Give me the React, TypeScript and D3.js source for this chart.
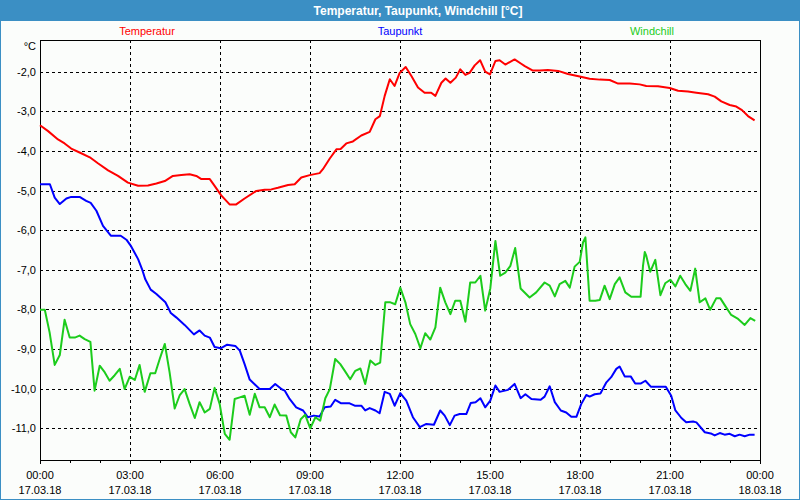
import React from "react";
import * as d3 from "d3";

// [hour of day, °C]
const temperatur: [number, number][] = [
  [0, -3.35], [0.27, -3.5], [0.6, -3.71], [0.82, -3.81], [1.04, -3.94], [1.32, -4.04],
  [1.66, -4.16], [1.93, -4.31], [2.27, -4.49], [2.6, -4.63], [2.93, -4.8], [3.27, -4.88],
  [3.6, -4.87], [3.88, -4.82], [4.16, -4.76], [4.43, -4.63], [4.71, -4.61], [4.99, -4.59],
  [5.21, -4.63], [5.38, -4.71], [5.66, -4.71], [5.82, -4.88], [6.04, -5.12], [6.32, -5.35],
  [6.54, -5.35], [6.82, -5.2], [7.21, -5.01], [7.49, -4.98], [7.71, -4.97], [7.93, -4.93],
  [8.27, -4.86], [8.49, -4.84], [8.71, -4.67], [8.99, -4.61], [9.32, -4.56], [9.43, -4.46],
  [9.66, -4.19], [9.88, -3.96], [10.02, -3.95], [10.21, -3.81], [10.43, -3.76], [10.71, -3.61],
  [10.99, -3.52], [11.18, -3.2], [11.33, -3.12], [11.49, -2.61], [11.66, -2.19], [11.82, -2.36],
  [11.99, -2.03], [12.19, -1.88], [12.38, -2.11], [12.6, -2.4], [12.82, -2.53], [13.04, -2.53],
  [13.18, -2.61], [13.38, -2.28], [13.52, -2.17], [13.68, -2.28], [13.86, -2.15], [14.01, -1.94],
  [14.18, -2.08], [14.32, -2.03], [14.49, -1.84], [14.67, -1.71], [14.84, -2.0], [15.0, -2.07],
  [15.18, -1.73], [15.32, -1.71], [15.51, -1.82], [15.82, -1.69], [16.04, -1.8], [16.16, -1.86],
  [16.43, -1.97], [16.66, -1.97], [16.93, -1.96], [17.27, -1.98], [17.6, -2.06], [17.99, -2.12],
  [18.32, -2.18], [18.66, -2.2], [18.99, -2.21], [19.27, -2.3], [19.66, -2.3], [19.99, -2.32],
  [20.21, -2.36], [20.6, -2.37], [20.99, -2.41], [21.27, -2.48], [21.6, -2.5], [21.88, -2.53],
  [22.27, -2.57], [22.49, -2.63], [22.71, -2.75], [22.99, -2.84], [23.21, -2.88], [23.4, -2.97],
  [23.6, -3.12], [23.82, -3.23],
];

const taupunkt: [number, number][] = [
  [0, -4.84], [0.33, -4.84], [0.49, -5.18], [0.66, -5.34], [0.88, -5.2], [1.04, -5.16],
  [1.32, -5.16], [1.54, -5.26], [1.69, -5.31], [1.88, -5.51], [2.1, -5.89], [2.36, -6.14],
  [2.69, -6.14], [2.88, -6.24], [3.04, -6.41], [3.27, -6.73], [3.4, -6.98], [3.51, -7.24],
  [3.69, -7.5], [3.88, -7.61], [4.18, -7.82], [4.36, -8.09], [4.54, -8.2], [4.82, -8.39],
  [5.13, -8.63], [5.32, -8.53], [5.49, -8.66], [5.66, -8.71], [5.82, -8.95], [6.02, -8.98],
  [6.24, -8.89], [6.51, -8.92], [6.66, -9.04], [6.82, -9.38], [6.99, -9.77], [7.32, -10.01],
  [7.66, -10.01], [7.84, -9.88], [8.07, -10.02], [8.16, -10.05], [8.32, -10.26], [8.54, -10.47],
  [8.77, -10.55], [8.93, -10.72], [9.13, -10.68], [9.32, -10.7], [9.49, -10.47], [9.69, -10.45],
  [9.84, -10.28], [10.04, -10.37], [10.32, -10.37], [10.49, -10.43], [10.71, -10.43], [10.84, -10.55],
  [10.99, -10.49], [11.18, -10.55], [11.32, -10.62], [11.49, -10.08], [11.66, -10.13], [11.82, -10.43],
  [12.01, -10.11], [12.21, -10.3], [12.43, -10.72], [12.66, -10.97], [12.88, -10.89], [13.13, -10.91],
  [13.34, -10.55], [13.49, -10.68], [13.66, -10.92], [13.82, -10.68], [13.99, -10.64], [14.21, -10.64],
  [14.36, -10.36], [14.52, -10.34], [14.68, -10.24], [14.84, -10.47], [15.01, -10.3], [15.18, -9.92],
  [15.32, -10.08], [15.6, -10.03], [15.82, -9.88], [16.02, -10.24], [16.18, -10.14], [16.38, -10.26],
  [16.69, -10.28], [16.82, -10.2], [16.99, -9.94], [17.16, -10.34], [17.36, -10.55], [17.54, -10.6],
  [17.71, -10.71], [17.88, -10.71], [18.04, -10.39], [18.21, -10.16], [18.32, -10.2], [18.49, -10.14],
  [18.68, -10.12], [18.88, -9.84], [19.04, -9.71], [19.21, -9.5], [19.32, -9.44], [19.49, -9.69],
  [19.69, -9.69], [19.84, -9.87], [20.02, -9.87], [20.18, -9.8], [20.36, -9.95], [20.86, -9.95],
  [21.04, -10.18], [21.18, -10.55], [21.38, -10.74], [21.54, -10.85], [21.77, -10.83], [21.88, -10.85],
  [22.16, -11.1], [22.36, -11.13], [22.49, -11.18], [22.66, -11.12], [22.82, -11.16], [22.99, -11.14],
  [23.16, -11.2], [23.32, -11.16], [23.49, -11.2], [23.66, -11.16], [23.82, -11.16],
];

const windchill: [number, number][] = [
  [0, -8.01], [0.16, -8.01], [0.32, -8.58], [0.49, -9.4], [0.66, -9.15], [0.82, -8.26],
  [0.99, -8.71], [1.16, -8.71], [1.32, -8.66], [1.49, -8.75], [1.68, -8.82], [1.82, -10.05],
  [1.99, -9.42], [2.16, -9.59], [2.32, -9.8], [2.49, -9.66], [2.66, -9.5], [2.82, -10.01],
  [2.99, -9.7], [3.16, -9.78], [3.32, -9.4], [3.49, -10.08], [3.68, -9.61], [3.84, -9.61],
  [3.99, -9.25], [4.16, -8.87], [4.32, -9.59], [4.49, -10.5], [4.66, -10.16], [4.82, -10.01],
  [4.99, -10.39], [5.16, -10.74], [5.32, -10.34], [5.49, -10.6], [5.66, -10.51], [5.82, -9.98],
  [5.99, -10.39], [6.16, -11.14], [6.32, -11.29], [6.49, -10.26], [6.66, -10.22], [6.82, -10.18],
  [6.99, -10.66], [7.16, -10.13], [7.32, -10.47], [7.49, -10.47], [7.66, -10.72], [7.82, -10.4],
  [8.0, -10.67], [8.21, -10.68], [8.36, -11.1], [8.51, -11.23], [8.69, -10.77], [8.84, -10.66],
  [9.01, -11.0], [9.18, -10.72], [9.34, -10.81], [9.51, -10.24], [9.66, -10.01], [9.84, -9.25],
  [10.01, -9.38], [10.16, -9.55], [10.34, -9.76], [10.51, -9.55], [10.68, -9.49], [10.84, -9.88],
  [11.01, -9.29], [11.18, -9.4], [11.34, -9.34], [11.51, -7.82], [11.68, -7.82], [11.84, -7.87],
  [12.01, -7.45], [12.18, -7.82], [12.34, -8.37], [12.51, -8.62], [12.68, -8.98], [12.84, -8.6],
  [13.01, -8.76], [13.18, -8.45], [13.34, -7.45], [13.51, -7.82], [13.68, -8.12], [13.84, -7.78],
  [14.01, -7.78], [14.18, -8.31], [14.34, -7.32], [14.51, -7.32], [14.68, -7.15], [14.84, -8.03],
  [15.01, -7.47], [15.18, -6.27], [15.34, -7.15], [15.51, -7.07], [15.68, -6.9], [15.84, -6.45],
  [16.02, -7.47], [16.32, -7.7], [16.54, -7.57], [16.82, -7.32], [16.99, -7.4], [17.16, -7.67],
  [17.32, -7.36], [17.51, -7.28], [17.66, -7.45], [17.82, -6.92], [17.99, -6.8], [18.1, -6.31],
  [18.18, -6.18], [18.32, -7.78], [18.51, -7.78], [18.66, -7.76], [18.82, -7.4], [18.99, -7.74],
  [19.16, -7.36], [19.32, -7.19], [19.51, -7.57], [19.71, -7.68], [20.02, -7.68], [20.1, -6.9],
  [20.16, -6.55], [20.21, -6.65], [20.34, -7.05], [20.51, -6.75], [20.68, -7.64], [20.84, -7.34],
  [21.01, -7.25], [21.18, -7.42], [21.34, -7.15], [21.51, -7.36], [21.68, -7.53], [21.84, -6.97],
  [21.99, -7.82], [22.18, -7.72], [22.34, -8.01], [22.54, -7.72], [22.68, -7.72], [22.84, -7.91],
  [23.04, -8.14], [23.27, -8.24], [23.49, -8.39], [23.68, -8.22], [23.84, -8.29],
];

const yTicks = [-2, -3, -4, -5, -6, -7, -8, -9, -10, -11];
const xTicks = [0, 3, 6, 9, 12, 15, 18, 21, 24];
const xTimeLabels = ["00:00", "03:00", "06:00", "09:00", "12:00", "15:00", "18:00", "21:00", "00:00"];
const xDateLabels = [
  "17.03.18", "17.03.18", "17.03.18", "17.03.18", "17.03.18",
  "17.03.18", "17.03.18", "17.03.18", "18.03.18",
];

const series = [
  { name: "Temperatur", data: temperatur, color: "#ff0000", legendX: 147 },
  { name: "Taupunkt", data: taupunkt, color: "#0000ff", legendX: 400 },
  { name: "Windchill", data: windchill, color: "#1ccc1c", legendX: 652 },
];

const W = 800;
const H = 500;
const margin = { top: 40, right: 40, bottom: 40, left: 40 };
const font = "Tahoma, 'Liberation Sans', Arial, sans-serif";

export default function App() {
  const x = d3.scaleLinear().domain([0, 24]).range([margin.left, W - margin.right]);
  const y = d3.scaleLinear().domain([-11.8, -1.2]).range([H - margin.bottom, margin.top]);
  const line = d3
    .line<[number, number]>()
    .x((d) => x(d[0]))
    .y((d) => y(d[1]));

  const hours = d3.range(0, 25);
  const x0 = x(0);
  const x1 = x(24);
  const yTop = y(-1.2);
  const yBot = y(-11.8);

  return (
    <svg
      width={W}
      height={H}
      style={{ position: "absolute", left: 0, top: 0, display: "block" }}
      fontFamily={font}
    >
      <rect x={0} y={0} width={W} height={H} fill="#3b8fc4" />
      <rect x={1} y={21} width={W - 2} height={H - 22} fill="#fbfdfb" />
      <text x={W / 2 + 18} y={15} textAnchor="middle" fill="#ffffff" fontSize={12} fontWeight="bold">
        Temperatur, Taupunkt, Windchill [°C]
      </text>

      {series.map((s) => (
        <text key={s.name} x={s.legendX} y={35} textAnchor="middle" fill={s.color} fontSize={11}>
          {s.name}
        </text>
      ))}

      {/* grid */}
      {yTicks.map((t) => (
        <line
          key={"gy" + t}
          x1={x0}
          x2={x1}
          y1={Math.round(y(t)) + 0.5}
          y2={Math.round(y(t)) + 0.5}
          stroke="#000"
          strokeDasharray="3,3"
          shapeRendering="crispEdges"
        />
      ))}
      {xTicks.slice(1, -1).map((t) => (
        <line
          key={"gx" + t}
          x1={x(t) + 0.5}
          x2={x(t) + 0.5}
          y1={yTop}
          y2={yBot}
          stroke="#000"
          strokeDasharray="3,3"
          shapeRendering="crispEdges"
        />
      ))}

      {/* frame */}
      <rect
        x={x0 + 0.5}
        y={yTop + 0.5}
        width={x1 - x0}
        height={yBot - yTop}
        fill="none"
        stroke="#000"
        shapeRendering="crispEdges"
      />

      {/* hour ticks */}
      {hours.map((h) => (
        <line
          key={"t" + h}
          x1={x(h) + 0.5}
          x2={x(h) + 0.5}
          y1={yBot}
          y2={yBot + (h % 3 === 0 ? 4 : 3)}
          stroke="#000"
          shapeRendering="crispEdges"
        />
      ))}

      {/* y labels */}
      <text x={36} y={50} textAnchor="end" fontSize={11} fill="#000">
        °C
      </text>
      {yTicks.map((t) => (
        <text key={"yl" + t} x={36} y={y(t) + 4} textAnchor="end" fontSize={11} fill="#000">
          {d3.format(".1f")(t).replace(".", ",").replace("−", "-")}
        </text>
      ))}

      {/* x labels */}
      {xTicks.map((t, i) => (
        <g key={"xl" + i}>
          <text x={x(t)} y={479} textAnchor="middle" fontSize={11} fill="#000">
            {xTimeLabels[i]}
          </text>
          <text x={x(t)} y={494} textAnchor="middle" fontSize={11} fill="#000">
            {xDateLabels[i]}
          </text>
        </g>
      ))}

      {/* series */}
      {series.map((s) => (
        <path
          key={"p" + s.name}
          d={line(s.data) || ""}
          fill="none"
          stroke={s.color}
          strokeWidth={2}
          strokeLinejoin="round"
        />
      ))}
    </svg>
  );
}
